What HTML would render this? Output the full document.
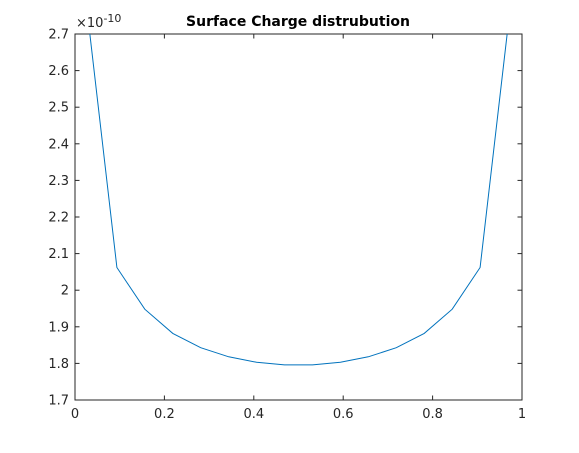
<!DOCTYPE html>
<html><head><meta charset="utf-8"><style>
body{margin:0;background:#fff;}
svg text{font-family:"DejaVu Sans","Liberation Sans",sans-serif;}
</style></head><body>
<svg id="chart" width="579" height="448" viewBox="0 0 579 448">
<rect width="579" height="448" fill="#fff"/>
<text x="298" y="26" text-anchor="middle" font-size="14" font-weight="bold" fill="#000">Surface Charge distrubution</text>
<g id="axes"></g>
<g id="plot"></g>
</svg>
<script>
const xVals=[0.03125,0.09375,0.15625,0.21875,0.28125,0.34375,0.40625,0.46875,0.53125,0.59375,0.65625,0.71875,0.78125,0.84375,0.90625,0.96875];
const yVals=[2.72,2.062,1.948,1.882,1.843,1.818,1.803,1.796,1.796,1.803,1.818,1.843,1.882,1.948,2.062,2.72];
const xTicks=[0,0.2,0.4,0.6,0.8,1];
const xTickLabels=["0","0.2","0.4","0.6","0.8","1"];
const yTicks=[1.7,1.8,1.9,2,2.1,2.2,2.3,2.4,2.5,2.6,2.7];
const yTickLabels=["1.7","1.8","1.9","2","2.1","2.2","2.3","2.4","2.5","2.6","2.7"];
const L=75,R=522,T=34,B=400,xmin=0,xmax=1,ymin=1.7,ymax=2.7;
const sx=v=>L+(v-xmin)/(xmax-xmin)*(R-L);
const sy=v=>B-(v-ymin)/(ymax-ymin)*(B-T);
const NS="http://www.w3.org/2000/svg";
const ax=document.getElementById('axes'),pl=document.getElementById('plot');
function mk(tag,attrs,parent){const e=document.createElementNS(NS,tag);for(const k in attrs)e.setAttribute(k,attrs[k]);parent.appendChild(e);return e;}
const box=mk('rect',{x:L,y:T,width:R-L,height:B-T,fill:'none',stroke:'#262626','stroke-width':1},ax);


xTicks.forEach((t,i)=>{
  const x=sx(t);
  mk('line',{x1:x,x2:x,y1:B,y2:B-4.5,stroke:'#262626'},ax);
  mk('line',{x1:x,x2:x,y1:T,y2:T+4.5,stroke:'#262626'},ax);
  const tx=mk('text',{x:x,y:B+18,'text-anchor':'middle','font-size':13,fill:'#262626'},ax);
  tx.textContent=xTickLabels[i];
  
  
});
yTicks.forEach((t,i)=>{
  const y=sy(t);
  mk('line',{x1:L,x2:L+4.5,y1:y,y2:y,stroke:'#262626'},ax);
  mk('line',{x1:R,x2:R-4.5,y1:y,y2:y,stroke:'#262626'},ax);
  const tx=mk('text',{x:L-6,y:y+4.5,'text-anchor':'end','font-size':13,fill:'#262626'},ax);
  tx.textContent=yTickLabels[i];
  
  
});
const ex=mk('text',{x:76,y:27,'font-size':13,fill:'#262626'},ax);
ex.innerHTML='×10<tspan dy="-5" font-size="11">-10</tspan>';


const cp=mk('clipPath',{id:'clip'},pl);
mk('rect',{x:L,y:T,width:R-L,height:B-T},cp);
const pts=xVals.map((x,i)=>sx(x).toFixed(1)+','+sy(yVals[i]).toFixed(1)).join(' ');
const line=mk('polyline',{points:pts,fill:'none',stroke:'#0072bd','stroke-width':1,'clip-path':'url(#clip)'},pl);


</script>
</body></html>
